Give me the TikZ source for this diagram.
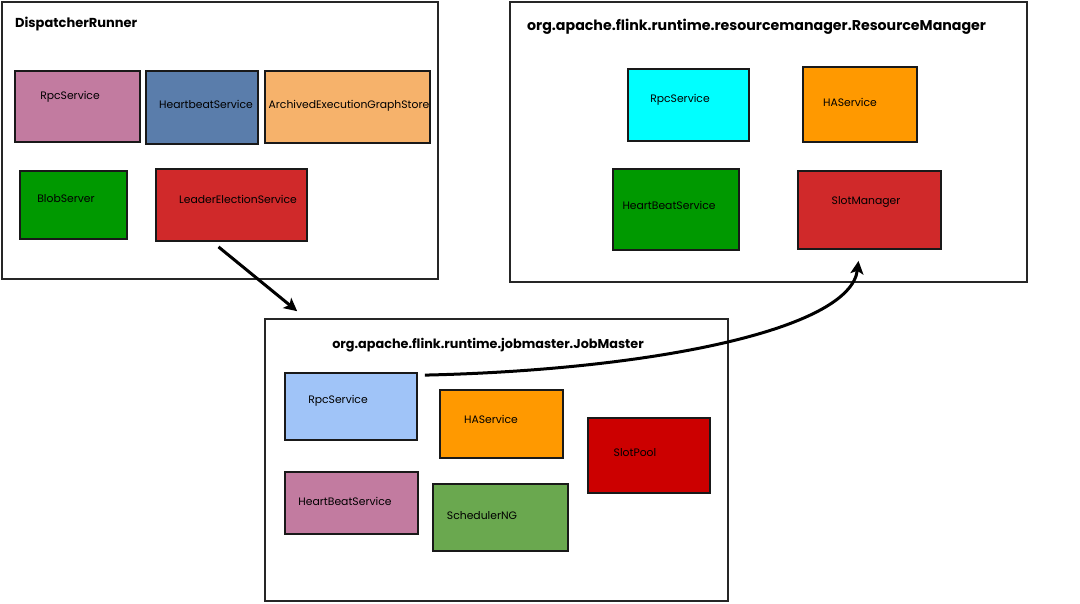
\documentclass[tikz,border=0pt]{standalone}
\usepackage{fontspec}
\setmainfont{Poppins}
\usetikzlibrary{arrows.meta}
\definecolor{cpink}{HTML}{C27BA0}
\definecolor{cblue}{HTML}{5A7DAB}
\definecolor{corangel}{HTML}{F6B26B}
\definecolor{cgreen}{HTML}{009900}
\definecolor{cred}{HTML}{D0292A}
\definecolor{ccyan}{HTML}{00FFFF}
\definecolor{corange}{HTML}{FF9900}
\definecolor{clblue}{HTML}{A0C4F8}
\definecolor{cdred}{HTML}{CC0000}
\definecolor{cmgreen}{HTML}{6AA84F}
\tikzset{
  outerbox/.style={draw=black!85, line width=1.6pt, fill=white, inner sep=0pt},
  svcbox/.style={draw=black!90, line width=1.8pt, inner sep=0pt},
  svctext/.style={font=\fontsize{10.8}{13}\selectfont, text=black, inner sep=0pt},
  titletext/.style={font=\bfseries\fontsize{#1}{16}\selectfont, text=black, inner sep=0pt},
  titletext/.default=13.5,
  flow/.style={line width=3pt, -{Stealth[length=13pt,width=13pt,inset=3pt]}}
}
\begin{document}
\begin{tikzpicture}[x=1pt,y=-1pt]
\useasboundingbox[fill=white] (0,0) rectangle (1080,603);
% DispatcherRunner
\node[outerbox, minimum width=436pt, minimum height=277pt] (dr) at (220,140.5) {};
\node[titletext=13, anchor=west] (drt) at (15,24) {DispatcherRunner};
\node[svcbox, fill=cpink, minimum width=125pt, minimum height=71pt] (drrpc) at (77.5,106.5) {};
\node[svctext] (drrpct) at (70,97) {RpcService};
\node[svcbox, fill=cblue, minimum width=112pt, minimum height=73pt] (drhb) at (202,107.5) {};
\node[svctext] (drhbt) at (206,104) {HeartbeatService};
\node[svcbox, fill=corangel, minimum width=165pt, minimum height=72pt] (drae) at (347.5,107) {};
\node[svctext] (draet) at (349,106) {ArchivedExecutionGraphStore};
\node[svcbox, fill=cgreen, minimum width=107pt, minimum height=68pt] (drbs) at (73.5,205) {};
\node[svctext] (drbst) at (66,199) {BlobServer};
\node[svcbox, fill=cred, minimum width=151pt, minimum height=72pt] (drle) at (231.5,205) {};
\node[svctext] (drlet) at (238,199) {LeaderElectionService};
% ResourceManager
\node[outerbox, minimum width=517pt, minimum height=280pt] (rm) at (768.5,142) {};
\node[titletext=14.2, anchor=west] (rmt) at (527,27) {org.apache.flink.runtime.resourcemanager.ResourceManager};
\node[svcbox, fill=ccyan, minimum width=121pt, minimum height=72pt] (rmrpc) at (688.5,105) {};
\node[svctext] (rmrpct) at (680,100) {RpcService};
\node[svcbox, fill=corange, minimum width=114pt, minimum height=75pt] (rmha) at (860,104.5) {};
\node[svctext] (rmhat) at (850,102) {HAService};
\node[svcbox, fill=cgreen, minimum width=126pt, minimum height=81pt] (rmhb) at (676,209.5) {};
\node[svctext] (rmhbt) at (669,205) {HeartBeatService};
\node[svcbox, fill=cred, minimum width=143pt, minimum height=78pt] (rmsm) at (869.5,210) {};
\node[svctext] (rmsmt) at (866,202) {SlotManager};
% JobMaster
\node[outerbox, minimum width=463pt, minimum height=282pt] (jm) at (496.5,460) {};
\node[titletext=12.8] (jmt) at (488,345) {org.apache.flink.runtime.jobmaster.JobMaster};
\node[svcbox, fill=clblue, minimum width=132pt, minimum height=67pt] (jmrpc) at (351,406.5) {};
\node[svctext] (jmrpct) at (338,401) {RpcService};
\node[svcbox, fill=corange, minimum width=123pt, minimum height=68pt] (jmha) at (501.5,424) {};
\node[svctext] (jmhat) at (491,419) {HAService};
\node[svcbox, fill=cdred, minimum width=122pt, minimum height=75pt] (jmsp) at (649,455.5) {};
\node[svctext] (jmspt) at (635,453) {SlotPool};
\node[svcbox, fill=cpink, minimum width=133pt, minimum height=62pt] (jmhb) at (351.5,503) {};
\node[svctext] (jmhbt) at (345,501) {HeartBeatService};
\node[svcbox, fill=cmgreen, minimum width=135pt, minimum height=67pt] (jmsch) at (500.5,517.5) {};
\node[svctext] (jmscht) at (482,516) {SchedulerNG};
% connectors
\coordinate (a1s) at ([shift={(-13,5)}]drle.south);
\coordinate (a1e) at ([shift={(33,-7)}]jm.north west);
\draw[flow] (a1s) -- (a1e);
\coordinate (a2s) at ([shift={(7,3)}]jmrpc.north east);
\coordinate (a2e) at ([shift={(-11,11)}]rmsm.south);
\draw[flow] (a2s) .. controls (650,370) and (850,330) .. (a2e);
\end{tikzpicture}
\end{document}
